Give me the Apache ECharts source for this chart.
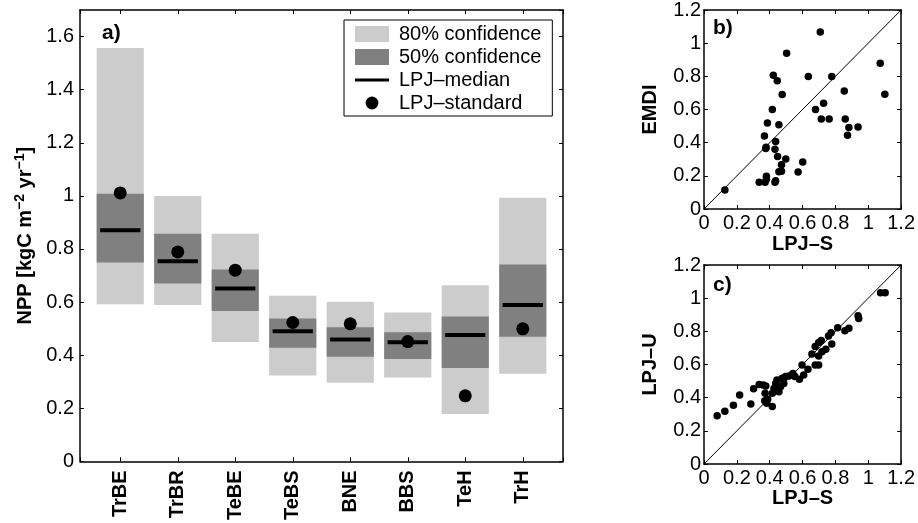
<!DOCTYPE html>
<html>
<head>
<meta charset="utf-8">
<script src="https://cdn.jsdelivr.net/npm/echarts@6/dist/echarts.min.js"></script>
<style>
html, body { margin: 0; background: #fff; }
#chart { width: 918px; height: 523px; }
</style>
</head>
<body>
<div id="chart"></div>
<script>
// panel a) values, one per PFT
var pfts = ['TrBE', 'TrBR', 'TeBE', 'TeBS', 'BNE', 'BBS', 'TeH', 'TrH'];
var conf80Low  = [0.592, 0.589, 0.450, 0.323, 0.296, 0.316, 0.178, 0.330];
var conf80High = [1.557, 0.999, 0.857, 0.624, 0.601, 0.561, 0.663, 0.993];
var conf50Low  = [0.749, 0.670, 0.566, 0.428, 0.394, 0.386, 0.352, 0.469];
var conf50High = [1.008, 0.857, 0.723, 0.538, 0.505, 0.486, 0.546, 0.741];
var lpjMedian  = [0.870, 0.754, 0.651, 0.490, 0.459, 0.449, 0.476, 0.589];
var lpjStandard = [1.011, 0.789, 0.720, 0.523, 0.518, 0.451, 0.247, 0.499];

// panel b) LPJ-S vs EMDI
var emdiX = [0.127, 0.336, 0.372, 0.380, 0.380, 0.432, 0.436, 0.368, 0.376, 0.378, 0.386, 0.416, 0.422, 0.446,
  0.476, 0.456, 0.436, 0.432, 0.448, 0.472, 0.456, 0.472, 0.498, 0.503, 0.573, 0.601, 0.635, 0.679, 0.708,
  0.714, 0.728, 0.762, 0.778, 0.854, 0.860, 0.882, 0.874, 0.938, 1.073, 1.101];
var emdiY = [0.115, 0.161, 0.161, 0.197, 0.180, 0.161, 0.170, 0.440, 0.365, 0.373, 0.518, 0.600, 0.807, 0.773,
  0.690, 0.508, 0.407, 0.361, 0.317, 0.267, 0.225, 0.227, 0.301, 0.939, 0.223, 0.283, 0.799, 0.600, 1.067,
  0.542, 0.638, 0.542, 0.799, 0.712, 0.542, 0.492, 0.445, 0.495, 0.879, 0.692];

// panel c) LPJ-S vs LPJ-U
var lpjuX = [0.080, 0.127, 0.179, 0.217, 0.285, 0.302, 0.336, 0.360, 0.376, 0.372, 0.370, 0.382, 0.388, 0.416,
  0.416, 0.426, 0.436, 0.444, 0.456, 0.466, 0.476, 0.486, 0.496, 0.517, 0.541, 0.553, 0.581, 0.597, 0.607,
  0.633, 0.657, 0.677, 0.698, 0.677, 0.698, 0.714, 0.698, 0.718, 0.742, 0.758, 0.774, 0.778, 0.814, 0.858,
  0.882, 0.938, 0.942, 1.075, 1.103];
var lpjuY = [0.291, 0.318, 0.354, 0.416, 0.362, 0.454, 0.480, 0.476, 0.470, 0.426, 0.382, 0.366, 0.390, 0.346,
  0.426, 0.456, 0.486, 0.507, 0.436, 0.466, 0.517, 0.486, 0.527, 0.531, 0.545, 0.527, 0.511, 0.597, 0.537,
  0.571, 0.663, 0.597, 0.597, 0.708, 0.732, 0.744, 0.651, 0.677, 0.692, 0.772, 0.792, 0.724, 0.822, 0.804,
  0.818, 0.894, 0.878, 1.033, 1.033];
var oneToOne = [[0, 0], [1.2, 1.2]];

var FONT = 'Liberation Sans, Arial, sans-serif';
var LIGHT = '#cccccc', DARK = '#808080';
var BAR_W = 0.82, MED_W = 0.70;

function zip(xs, ys) { return xs.map(function (x, i) { return [x, ys[i]]; }); }
function boxData(lo, hi) { return pfts.map(function (p, i) { return [i + 1, lo[i], hi[i]]; }); }
var pftPos = pfts.map(function (p, i) { return i + 1; });

function boxRender(color) {
  return function (params, api) {
    var x = api.value(0);
    var a = api.coord([x - BAR_W / 2, api.value(2)]);
    var b = api.coord([x + BAR_W / 2, api.value(1)]);
    return { type: 'rect', shape: { x: a[0], y: a[1], width: b[0] - a[0], height: b[1] - a[1] }, style: { fill: color } };
  };
}
function medianRender(params, api) {
  var x = api.value(0), m = api.value(1);
  var a = api.coord([x - MED_W / 2, m]);
  var b = api.coord([x + MED_W / 2, m]);
  return { type: 'rect', shape: { x: a[0], y: a[1] - 2, width: b[0] - a[0], height: 4 }, style: { fill: '#000' } };
}

function ax(extra) {
  var base = {
    axisLine: { show: true, onZero: false, lineStyle: { color: '#000', width: 1.5 } },
    axisTick: { show: true, inside: true, length: 4, lineStyle: { color: '#000', width: 1 } },
    splitLine: { show: false },
    axisLabel: { show: false }
  };
  return Object.assign(base, extra);
}
function tickLabels(extra) {
  return Object.assign({ show: true, color: '#000', fontSize: 20, fontFamily: FONT }, extra);
}
var nameStyle = { color: '#000', fontSize: 20, fontWeight: 'bold', fontFamily: FONT };

var chart = echarts.init(document.getElementById('chart'), null, { renderer: 'canvas' });
chart.setOption({
  animation: false,
  backgroundColor: '#fff',
  grid: [
    { left: 80, top: 10, width: 483, height: 454 },
    { left: 704, top: 10, width: 199, height: 199 },
    { left: 704, top: 265, width: 199, height: 199 }
  ],
  xAxis: [
    ax({ type: 'value', gridIndex: 0, position: 'bottom', min: 0.3, max: 8.7, minInterval: 1, maxInterval: 1, splitNumber: 8,
      axisLabel: tickLabels({ rotate: 90, fontWeight: 'bold', margin: 9,
        formatter: function (v) { var r = Math.round(v); return Math.abs(v - r) < 1e-6 && r >= 1 && r <= 8 ? pfts[r - 1] : ''; } }) }),
    ax({ type: 'value', gridIndex: 0, position: 'top', min: 0.3, max: 8.7, minInterval: 1, maxInterval: 1, splitNumber: 8 }),
    ax({ type: 'value', gridIndex: 1, position: 'bottom', min: 0, max: 1.2, interval: 0.2,
      axisLabel: tickLabels({ margin: 4 }), name: 'LPJ–S', nameLocation: 'middle', nameGap: 25, nameTextStyle: nameStyle }),
    ax({ type: 'value', gridIndex: 1, position: 'top', min: 0, max: 1.2, interval: 0.2 }),
    ax({ type: 'value', gridIndex: 2, position: 'bottom', min: 0, max: 1.2, interval: 0.2,
      axisLabel: tickLabels({ margin: 4 }), name: 'LPJ–S', nameLocation: 'middle', nameGap: 19, nameTextStyle: nameStyle }),
    ax({ type: 'value', gridIndex: 2, position: 'top', min: 0, max: 1.2, interval: 0.2 })
  ],
  yAxis: [
    ax({ type: 'value', gridIndex: 0, position: 'left', min: 0, max: 1.7, interval: 0.2,
      axisLabel: tickLabels({ margin: 6, showMaxLabel: false }),
      name: '{b|NPP [kgC m}{s|−2}{b| yr}{s|−1}{b|]}', nameLocation: 'middle', nameGap: 43, nameRotate: 90,
      nameTextStyle: { rich: {
        b: { color: '#000', fontSize: 20, fontWeight: 'bold', fontFamily: FONT, lineHeight: 24 },
        s: { color: '#000', fontSize: 14, fontWeight: 'bold', fontFamily: FONT, verticalAlign: 'top', lineHeight: 14 }
      } } }),
    ax({ type: 'value', gridIndex: 0, position: 'right', min: 0, max: 1.7, interval: 0.2 }),
    ax({ type: 'value', gridIndex: 1, position: 'left', min: 0, max: 1.2, interval: 0.2,
      axisLabel: tickLabels({ margin: 3 }), name: 'EMDI', nameLocation: 'middle', nameGap: 44, nameRotate: 90, nameTextStyle: nameStyle }),
    ax({ type: 'value', gridIndex: 1, position: 'right', min: 0, max: 1.2, interval: 0.2 }),
    ax({ type: 'value', gridIndex: 2, position: 'left', min: 0, max: 1.2, interval: 0.2,
      axisLabel: tickLabels({ margin: 3 }), name: 'LPJ–U', nameLocation: 'middle', nameGap: 44, nameRotate: 90, nameTextStyle: nameStyle }),
    ax({ type: 'value', gridIndex: 2, position: 'right', min: 0, max: 1.2, interval: 0.2 })
  ],
  legend: {
    orient: 'vertical',
    left: 344, top: 20,
    padding: [4, 11, 3, 11],
    itemGap: 3, itemWidth: 34, itemHeight: 16,
    backgroundColor: '#fff', borderColor: '#000', borderWidth: 1, borderRadius: 0,
    selectedMode: false,
    textStyle: { color: '#000', fontSize: 20, fontFamily: FONT, padding: [0, 0, 0, 5] },
    data: [
      { name: '80% confidence', icon: 'rect', itemStyle: { color: LIGHT } },
      { name: '50% confidence', icon: 'rect', itemStyle: { color: DARK } },
      { name: 'LPJ–median', icon: 'path://M0,0M34,16M0,6.5L34,6.5L34,9.5L0,9.5Z', itemStyle: { color: '#000' } },
      { name: 'LPJ–standard', icon: 'path://M0,0M34,16M23.4,8A6.4,6.4,0,1,1,10.6,8A6.4,6.4,0,1,1,23.4,8Z', itemStyle: { color: '#000' } }
    ]
  },
  graphic: [
    { type: 'text', left: 102, top: 23, style: { text: 'a)', font: 'bold 21px ' + FONT, fill: '#000' } },
    { type: 'text', left: 713, top: 18, style: { text: 'b)', font: 'bold 21px ' + FONT, fill: '#000' } },
    { type: 'text', left: 713, top: 275, style: { text: 'c)', font: 'bold 21px ' + FONT, fill: '#000' } }
  ],
  series: [
    { name: '80% confidence', type: 'custom', xAxisIndex: 0, yAxisIndex: 0, renderItem: boxRender(LIGHT),
      itemStyle: { color: LIGHT }, encode: { x: 0, y: [1, 2] }, data: boxData(conf80Low, conf80High), z: 1 },
    { name: '50% confidence', type: 'custom', xAxisIndex: 0, yAxisIndex: 0, renderItem: boxRender(DARK),
      itemStyle: { color: DARK }, encode: { x: 0, y: [1, 2] }, data: boxData(conf50Low, conf50High), z: 2 },
    { name: 'LPJ–median', type: 'custom', xAxisIndex: 0, yAxisIndex: 0, renderItem: medianRender,
      itemStyle: { color: '#000' }, encode: { x: 0, y: 1 }, data: zip(pftPos, lpjMedian), z: 3 },
    { name: 'LPJ–standard', type: 'scatter', xAxisIndex: 0, yAxisIndex: 0, symbolSize: 13,
      itemStyle: { color: '#000', opacity: 1 }, data: zip(pftPos, lpjStandard), z: 4 },

    { type: 'line', xAxisIndex: 2, yAxisIndex: 2, data: oneToOne, symbol: 'none', silent: true,
      lineStyle: { color: '#000', width: 1 } },
    { type: 'scatter', xAxisIndex: 2, yAxisIndex: 2, symbolSize: 7.5, itemStyle: { color: '#000', opacity: 1 }, data: zip(emdiX, emdiY) },

    { type: 'line', xAxisIndex: 4, yAxisIndex: 4, data: oneToOne, symbol: 'none', silent: true,
      lineStyle: { color: '#000', width: 1 } },
    { type: 'scatter', xAxisIndex: 4, yAxisIndex: 4, symbolSize: 7.5, itemStyle: { color: '#000', opacity: 1 }, data: zip(lpjuX, lpjuY) }
  ]
});
</script>
</body>
</html>
